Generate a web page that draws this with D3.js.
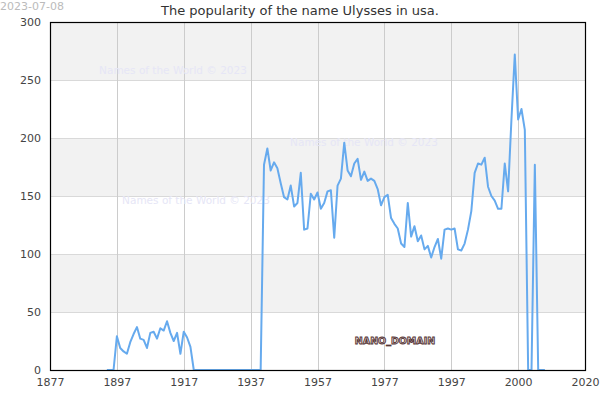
<!DOCTYPE html>
<html><head><meta charset="utf-8">
<script src="https://cdn.jsdelivr.net/npm/d3@7"></script>
<style>body{margin:0;background:#fff;}svg{display:block;font-family:"DejaVu Sans",sans-serif;}</style>
</head><body><svg id="c" width="600" height="400"></svg>
<script>
const years = [1894,1895,1896,1897,1898,1899,1900,1901,1902,1903,1904,1905,1906,1907,1908,1909,1910,1911,1912,1913,1914,1915,1916,1917,1918,1919,1920,1921,1922,1923,1924,1925,1926,1927,1928,1929,1930,1931,1932,1933,1934,1935,1936,1937,1938,1939,1940,1941,1942,1943,1944,1945,1946,1947,1948,1949,1950,1951,1952,1953,1954,1955,1956,1957,1958,1959,1960,1961,1962,1963,1964,1965,1966,1967,1968,1969,1970,1971,1972,1973,1974,1975,1976,1977,1978,1979,1980,1981,1982,1983,1984,1985,1986,1987,1988,1989,1990,1991,1992,1993,1994,1995,1996,1997,1998,1999,2000,2001,2002,2003,2004,2005,2006,2007,2008,2009,2010,2011,2012,2013,2014,2015,2016,2017,2018,2019,2020,2021,2022,2023,2024,2025];
const counts = [0,0,0,29,19,16,14,24,31,37,27,26,19,32,33,27,36,34,42,32,25,32,14,33,28,20,0,0,0,0,0,0,0,0,0,0,0,0,0,0,0,0,0,0,0,0,0,177,191,172,179,174,161,149,147,159,141,144,170,121,122,152,147,153,139,144,154,155,114,159,165,196,172,167,178,182,164,171,163,165,163,156,142,149,151,131,126,122,109,106,144,115,124,111,116,104,107,97,106,113,96,121,122,121,122,104,103,109,121,137,170,178,177,183,158,150,146,139,139,178,154,216,272,216,225,207,0,0,177,0,0,0];
const xTickValues = [1877,1897,1917,1937,1957,1977,1997,2017,2037];
const xTickLabels = ["1877","1897","1917","1937","1957","1977","1997","2000","2020"];
const yTickValues = [0,50,100,150,200,250,300];
const title = "The popularity of the name Ulysses in usa.";
const dateLabel = "2023-07-08";
const watermark = "Names of the World © 2023";

const svg = d3.select("#c");
const m = {l:50, r:15, t:22, b:30};
const W = 600, H = 400;
const x = d3.scaleLinear().domain([1877,2037]).range([m.l, W-m.r]);
const y = d3.scaleLinear().domain([0,300]).range([H-m.b, m.t]);

const bands = [[50,100],[150,200],[250,300]];
svg.append("g").selectAll("rect").data(bands).join("rect")
  .attr("x", x(1877)).attr("width", x(2037)-x(1877))
  .attr("y", d=>y(d[1])).attr("height", d=>y(d[0])-y(d[1]))
  .attr("fill","#f2f2f2");

const g = svg.append("g");
g.selectAll("line.h").data(yTickValues).join("line").attr("class","h")
  .attr("x1",x(1877)).attr("x2",x(2037)).attr("y1",d=>y(d)+0.5).attr("y2",d=>y(d)+0.5)
  .attr("stroke","#d9d9d9").attr("stroke-width",1);
g.selectAll("line.v").data(xTickValues).join("line").attr("class","v")
  .attr("y1",y(0)).attr("y2",y(300)).attr("x1",d=>Math.round(x(d))+0.5).attr("x2",d=>Math.round(x(d))+0.5)
  .attr("stroke","#cccccc").attr("stroke-width",1);

const wm = [[173,74],[364,146],[196,204]];
svg.append("g").selectAll("text").data(wm).join("text")
  .attr("x",d=>d[0]).attr("y",d=>d[1]).attr("text-anchor","middle")
  .attr("font-size",10.5).attr("fill","#e6e6f6").text(watermark);

const line = d3.line().x((d,i)=>x(years[i])).y(d=>y(d));
svg.append("path").datum(counts).attr("d",line)
  .attr("fill","none").attr("stroke","#66aaee").attr("stroke-width",2).attr("stroke-linejoin","round");

svg.append("rect").attr("x",x(1877)+0.5).attr("y",y(300)+0.5)
  .attr("width",x(2037)-x(1877)).attr("height",y(0)-y(300))
  .attr("fill","none").attr("stroke","#000").attr("stroke-width",1.2);

const xAxis = d3.axisBottom(x).tickValues(xTickValues).tickFormat((d,i)=>xTickLabels[i]).tickSize(0).tickPadding(8);
const gx = svg.append("g").attr("transform",`translate(0,${y(0)})`).call(xAxis);
gx.select(".domain").remove();
gx.selectAll("text").attr("font-size",11).attr("fill","#444").attr("font-family","DejaVu Sans");
const yAxis = d3.axisLeft(y).tickValues(yTickValues).tickSize(0).tickPadding(9);
const gy = svg.append("g").attr("transform",`translate(${x(1877)},0)`).call(yAxis);
gy.select(".domain").remove();
gy.selectAll("text").attr("font-size",11).attr("fill","#444").attr("font-family","DejaVu Sans");

svg.append("text").attr("x",300).attr("y",15).attr("text-anchor","middle")
  .attr("font-size",13).attr("fill","#333").text(title);
svg.append("text").attr("x",0).attr("y",10).attr("font-size",11).attr("fill","#bbb").text(dateLabel);

svg.append("text").attr("x",395).attr("y",344).attr("text-anchor","middle")
  .attr("font-size",9.5).attr("font-weight","bold").attr("fill","#eadada")
  .attr("stroke","#553535").attr("stroke-width",0.9).text("NANO_DOMAIN");
</script></body></html>
